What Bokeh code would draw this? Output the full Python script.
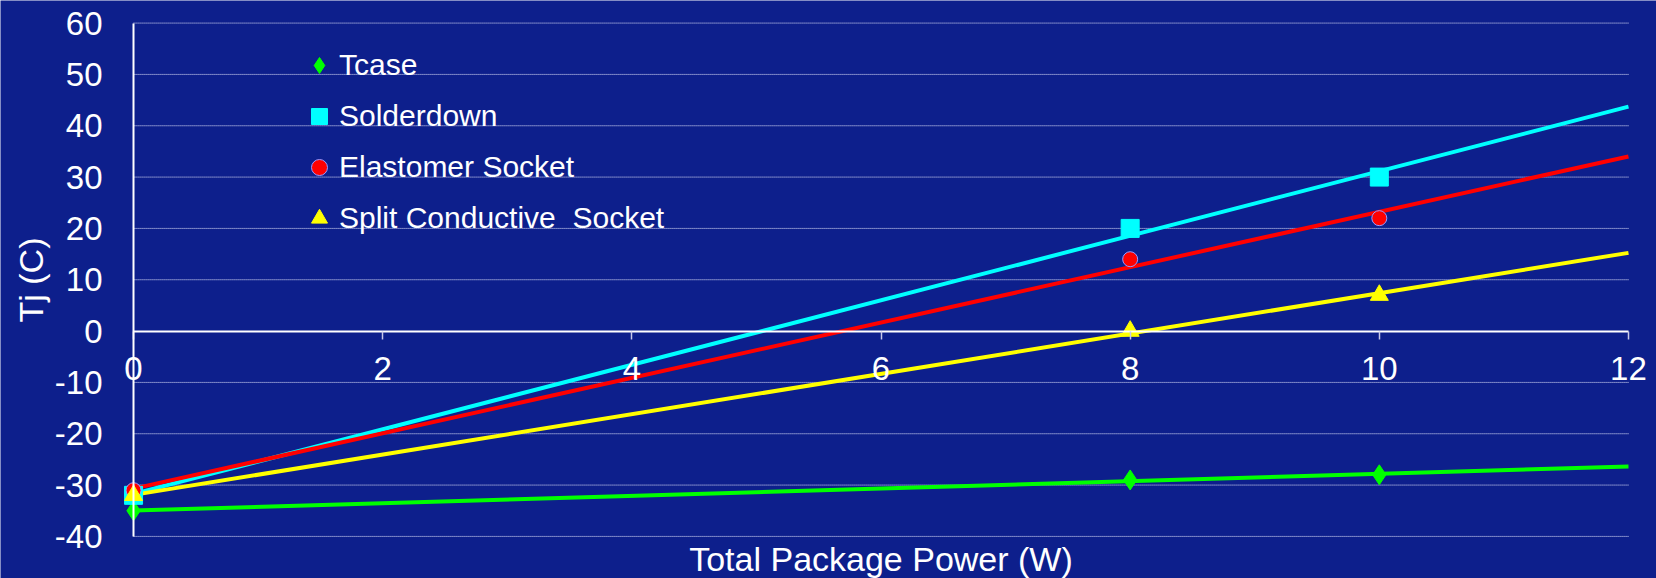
import numpy as np
from bokeh.plotting import figure
from bokeh.models import Range1d, FixedTicker, Legend, LegendItem, ColumnDataSource
from bokeh.embed import file_html
from bokeh.resources import INLINE

# ---- data ----
power = [0, 8, 10]
tcase = [-35, -29, -28]
solderdown = [-32, 20, 30]
elastomer = [-31, 14, 22]
split_socket = [-32, 0, 7]
series_names = ["Tcase", "Solderdown", "Elastomer Socket", "Split Conductive  Socket"]
x_ticks = [0, 2, 4, 6, 8, 10, 12]
y_ticks = [-40, -30, -20, -10, 0, 10, 20, 30, 40, 50, 60]

BG = "#0D1F8C"
FONT = "Liberation Sans"

# The frame covers the whole canvas; axes sit at fixed locations inside it.
p = figure(width=1656, height=578,
           x_range=Range1d(-1.068, 12.225), y_range=Range1d(-48.2, 64.4),
           output_backend="svg", toolbar_location=None,
           background_fill_color=BG, border_fill_color=BG,
           outline_line_color=None,
           min_border_left=0, min_border_right=0,
           min_border_top=0, min_border_bottom=0)

p.xgrid.visible = False
p.ygrid.visible = False

# x axis at y = 0
xa = p.xaxis[0]
xa.fixed_location = 0
xa.bounds = (x_ticks[0], x_ticks[-1])
xa.ticker = FixedTicker(ticks=x_ticks)
xa.major_label_overrides = {t: str(t) for t in x_ticks}
xa.axis_line_color = "white"
xa.axis_line_width = 2
xa.major_tick_out = 8
xa.major_tick_in = 0
xa.major_tick_line_color = "#c8c8e8"
xa.major_tick_line_width = 1.5
xa.minor_tick_line_color = None
xa.major_label_text_font = FONT
xa.major_label_text_font_size = "33px"
xa.major_label_text_color = "white"
xa.major_label_standoff = 18
xa.axis_label = "Total Package Power (W)"
xa.axis_label_text_font = FONT
xa.axis_label_text_font_size = "34px"
xa.axis_label_text_font_style = "normal"
xa.axis_label_text_color = "white"
xa.axis_label_standoff = 156

# y axis at x = 0
ya = p.yaxis[0]
ya.fixed_location = 0
ya.bounds = (y_ticks[0], y_ticks[-1])
ya.ticker = FixedTicker(ticks=y_ticks)
ya.major_label_overrides = {t: str(t) for t in y_ticks}
ya.axis_line_color = "white"
ya.axis_line_width = 2
ya.major_tick_out = 0
ya.major_tick_in = 0
ya.minor_tick_line_color = None
ya.major_label_text_font = FONT
ya.major_label_text_font_size = "33px"
ya.major_label_text_color = "white"
ya.major_label_standoff = 31
ya.axis_label = "Tj (C)"
ya.axis_label_text_font = FONT
ya.axis_label_text_font_size = "34px"
ya.axis_label_text_font_style = "normal"
ya.axis_label_text_color = "white"
ya.axis_label_standoff = 2

# dotted horizontal gridlines
grid_src = ColumnDataSource(dict(y=[v for v in y_ticks if v != 0]))
p.segment(x0=x_ticks[0], x1=x_ticks[-1], y0="y", y1="y", source=grid_src,
          line_color="#e8eaff", line_width=1, line_dash="1 1")

series = [tcase, solderdown, elastomer, split_socket]
colors = ["#00FF00", "#00FFFF", "#FF0000", "#FFFF00"]
markers = ["diamond", "square", "circle", "triangle"]
sizes = [20, 18, 15, 18]
outlines = ["#00FF00", "#00FFFF", "#9A9AFF", "#FFFF00"]

# linear trendlines (least-squares fit of each series), across the x axis extent
for vals, c in zip(series, colors):
    coef = np.polyfit(power, vals, 1)
    xs = [x_ticks[0], x_ticks[-1]]
    ys = list(np.polyval(coef, xs))
    p.line(xs, ys, line_color=c, line_width=4)

items = []
for name, vals, c, m, s, oc in zip(series_names, series, colors, markers, sizes, outlines):
    r = p.scatter(power, vals, marker=m, size=s, fill_color=c, line_color=oc, line_width=1)
    items.append(LegendItem(label=name, renderers=[r]))

legend = Legend(items=items, location=(299, 340), orientation="vertical",
                glyph_width=40, glyph_height=40, label_height=40, spacing=11,
                padding=0, margin=0, border_line_color=None, background_fill_alpha=0,
                label_text_font=FONT, label_text_font_size="30px",
                label_text_color="white", label_standoff=-4)
p.add_layout(legend)

open("out.html", "w").write(file_html(p, INLINE))
